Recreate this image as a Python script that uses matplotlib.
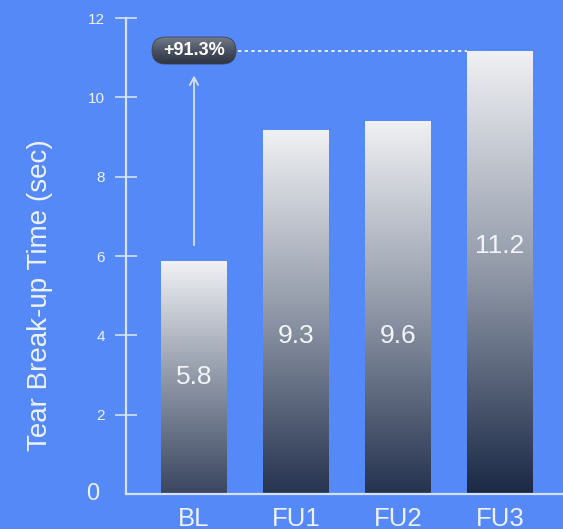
import numpy as np
import matplotlib
matplotlib.use("Agg")
import matplotlib.pyplot as plt
from matplotlib.colors import LinearSegmentedColormap, to_rgb
from matplotlib.patches import Rectangle, FancyBboxPatch
from matplotlib.transforms import IdentityTransform

plt.rcParams['font.family'] = ['Liberation Sans', 'DejaVu Sans']

categories = ["BL", "FU1", "FU2", "FU3"]
bar_heights = [5.87, 9.18, 9.41, 11.18]
value_labels = ["5.8", "9.3", "9.6", "11.2"]
label_y = [2.96, 3.99, 3.99, 6.25]
yticks = [2, 4, 6, 8, 10, 12]
change_label = "+91.3%"

BG = "#5589F7"
LINE = "#D5E1FD"
TXT = "#EEF2FD"

fig = plt.figure(figsize=(5.63, 5.29), dpi=100, facecolor=BG)
ax = fig.add_axes([126/563, 1-494/529, 1-126/563, (494-18)/529])
ax.set_facecolor(BG)
ax.set_xlim(-0.667, 3.618)
ax.set_ylim(0, 12)

width = 0.647
top_c = np.array(to_rgb("#F0F1F4"))
mid_c = np.array(to_rgb("#9199A8"))
grad = np.linspace(0, 1, 256).reshape(-1, 1)
for i, h in enumerate(bar_heights):
    t = (h - min(bar_heights)) / (max(bar_heights) - min(bar_heights))
    bot = (1 - t) * np.array(to_rgb("#3A4660")) + t * np.array(to_rgb("#1B2946"))
    cmap = LinearSegmentedColormap.from_list("g", [bot, mid_c, top_c])
    x0 = i - width / 2
    im = ax.imshow(grad, cmap=cmap, origin="lower", aspect="auto",
                   extent=(x0, x0 + width, 0, h), zorder=2)
    rect = Rectangle((x0, 0), width, h, transform=ax.transData, facecolor="none", edgecolor="none")
    ax.add_patch(rect)
    im.set_clip_path(rect)
    ax.text(i, label_y[i], value_labels[i], ha="center", va="center",
            color="#F2F4F8", fontsize=19, zorder=4)

ax.set_xlim(-0.667, 3.618)
ax.set_ylim(0, 12)

for s in ["top", "right"]:
    ax.spines[s].set_visible(False)
for s in ["left", "bottom"]:
    ax.spines[s].set_color(LINE)
    ax.spines[s].set_linewidth(1.6)
    ax.spines[s].set_zorder(5)

ax.set_xticks(range(len(categories)))
ax.set_xticklabels(categories, fontsize=18.5, color=TXT)
ax.tick_params(axis="x", length=0, pad=9)
ax.set_yticks(yticks)
ax.set_yticklabels([str(v) for v in yticks], fontsize=11, color=TXT)
ax.tick_params(axis="y", direction="inout", length=16, width=1.2, color=LINE, pad=7)
ax.text(-0.667 - 0.26, 0, "0", ha="right", va="center", fontsize=17,
        color=TXT, transform=ax.transData, clip_on=False)

fig.text(40/563, 1-295/529, "Tear Break-up Time (sec)", rotation=90, ha="center",
         va="center", fontsize=20, color=TXT)

# arrow from BL to FU3 level
ax.annotate("", xy=(0, 10.62), xytext=(0, 6.2),
            arrowprops=dict(arrowstyle="->,head_length=0.55,head_width=0.3", color=LINE, lw=1.3),
            zorder=3)
ax.plot([0.43, 2.675], [bar_heights[3], bar_heights[3]], linestyle=(0, (2, 2)),
        color="white", lw=1.2, zorder=3)

# pill label with gradient
cx, cy = ax.transData.transform((0, bar_heights[3]))
pw, ph = 84, 27
pill = FancyBboxPatch((cx - pw/2 + ph/2, cy - ph/2 + ph/2 - ph/2 + 0), pw - ph, ph,
                      boxstyle="round,pad=0,rounding_size=13.5", transform=IdentityTransform(),
                      facecolor="none", edgecolor="#3C4352", lw=0.6, zorder=7)
pill.set_x(cx - pw/2)
pill.set_width(pw)
ax.add_patch(pill)
inv = ax.transData.inverted()
(ex0, ey0) = inv.transform((cx - pw/2, cy - ph/2))
(ex1, ey1) = inv.transform((cx + pw/2, cy + ph/2))
pcmap = LinearSegmentedColormap.from_list("p", ["#2C3342", "#4A5262", "#747B8A"])
pim = ax.imshow(grad, cmap=pcmap, origin="lower", aspect="auto",
                extent=(ex0, ex1, ey0, ey1), zorder=6)
pim.set_clip_path(pill)
ax.text(0, bar_heights[3], change_label, ha="center", va="center", fontsize=13,
        color="white", fontweight="bold", zorder=8)

ax.set_xlim(-0.667, 3.618)
ax.set_ylim(0, 12)

fig.savefig("out.png", dpi=100, facecolor=BG)
